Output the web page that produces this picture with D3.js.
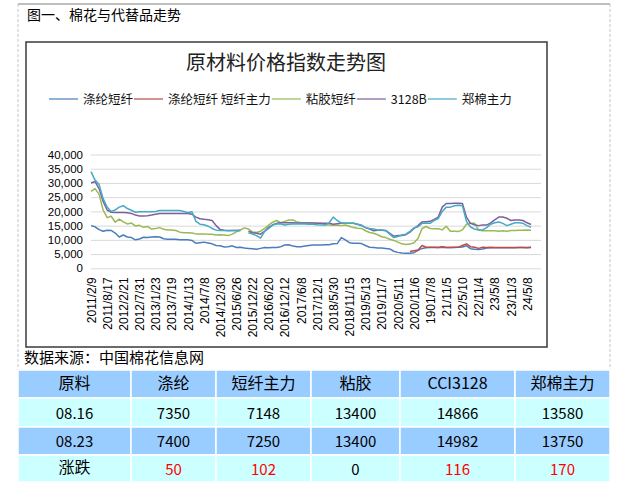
<!DOCTYPE html>
<html>
<head>
<meta charset="utf-8">
<script src="https://cdn.jsdelivr.net/npm/d3@7"></script>
<style>
  body { margin: 0; background: #fff; }
  text { font-family: "Noto Sans CJK SC", sans-serif; }
</style>
</head>
<body>
<div id="chart"></div>
<script>
// x axis tick labels (one every 4 samples)
const tickLabels = ['2011/2/9', '2011/8/17', '2012/2/21', '2012/7/31', '2013/1/23', '2013/7/19', '2014/1/13',
  '2014/7/8', '2014/12/30', '2015/6/26', '2015/12/22', '2016/6/20', '2016/12/12', '2017/6/8',
  '2017/12/1', '2018/5/30', '2018/11/15', '2019/5/13', '2019/11/7', '2020/5/11', '2020/11/6',
  '1901/7/8', '21/11/5', '22/5/10', '22/11/4', '23/5/8', '23/11/3', '24/5/8'];

// 涤纶短纤
const polyester = [
  15000, 14600, 13600, 13000, 13400, 13300, 12400, 11000, 11700, 11000,
  10800, 10000, 10300, 10900, 10800, 11000, 11100, 11000, 10400, 10200,
  10200, 10200, 10000, 10000, 10000, 9800, 8800, 9000, 9200, 8900,
  8600, 8000, 7900, 7500, 7600, 7900, 7300, 7400, 7100, 7000,
  6900, 6700, 7000, 7300, 7200, 7300, 7300, 7600, 8200, 8300,
  7800, 7600, 7600, 7800, 8000, 8200, 8200, 8200, 8300, 8300,
  8600, 8700, 10800, 10000, 9000, 8800, 8800, 8700, 8000, 7400,
  7300, 7100, 7100, 7000, 6800, 6000, 5600, 5400, 5300, 5300,
  5500, 6300, 7000, 7200, 7300, 7300, 7300, 7400, 7300, 7200,
  7300, 7400, 7500, 7900, 6900, 6700, 6600, 6800, 7100, 7200,
  7200, 7200, 7200, 7200, 7200, 7200, 7300, 7300, 7300, 7400
];

// 涤纶短纤 短纤主力 (starts later)
const psfStart = 79;
const psfFutures = [
  5900, 6200, 6400, 8000, 7400, 7400, 7400, 7300, 7600, 7300,
  7400, 7400, 7400, 8000, 8600, 7600, 7400, 7000, 7400, 7300,
  7400, 7300, 7300, 7300, 7300, 7300, 7300, 7300, 7300, 7200, 7300
];

// 粘胶短纤
const viscose = [
  27000, 28000, 26000, 20500, 17800, 18300, 16200, 17300, 16300, 15600,
  15900, 14900, 15100, 14400, 14700, 13800, 14000, 14300, 13700, 13500,
  13500, 13300, 12700, 12500, 12500, 12400, 12100, 12100, 12100, 12000,
  12000, 11700, 11800, 11700, 11500, 12000, 12800, 13500, 14200, 13800,
  12800, 12600, 13000, 14000, 15200, 16200, 16800, 16000, 16500, 17000,
  17000, 16300, 16000, 16000, 15900, 15900, 15800, 15800, 15300, 15200,
  15100, 15100, 15000, 15200, 14800, 14300, 14100, 14000, 13200, 12600,
  12300, 11800, 11100, 10800, 10200, 9800, 9200, 8600, 8400, 8500,
  9000, 10500, 14000, 14700, 14000, 13900, 13900, 13500, 14800, 13000,
  13000, 12900, 13500, 15500, 15800, 15800, 13500, 13200, 13200, 13200,
  13200, 13000, 13200, 13000, 13300, 13300, 13400, 13400, 13500, 13400
];

// 3128B
const cci3128 = [
  30000, 30500, 28000, 23500, 20500, 19700, 19600, 19600, 19600, 19500,
  19300, 18700, 18400, 18400, 18500, 18700, 19000, 19300, 19300, 19300,
  19300, 19300, 19300, 19300, 19300, 19000, 18000, 17400, 17200, 17100,
  16800, 15000, 13600, 13400, 13300, 13300, 13300, 13400, null, 13000,
  12500, 12300, 12000, 13000, 14400, 15300, 15800, 16000, 16000, 16000,
  16000, 15900, 15900, 15900, 15900, 15900, 15800, 15800, 15800, 15800,
  15500, 15700, 15800, 15800, 15800, 15800, 15500, 15000, 14300, 13800,
  13200, 13400, 13400, 13300, 12300, 11300, 11500, 11500, 11800, 12700,
  14000, 15000, 16300, 16400, 16500, 17200, 18000, 21500, 22800, 22800,
  22900, 22900, 22800, 18000, 15800, 15300, 15000, 15200, 15200, 16000,
  17000, 18000, 18000, 17600, 16800, 17000, 17000, 16800, 16000, 15400
];

// 郑棉主力
const zceCotton = [
  34000, 31000, 29500, 24500, 21500, 20000, 20500, 21500, 22000, 21000,
  20400, 19700, 19900, 19900, 19900, 19900, 20000, 20300, 20300, 20300,
  20300, 20300, 20300, 20000, 19500, 19900, 16500, 15500, 15300, 14800,
  14000, 13400, 13300, 13300, 13200, 13300, 13300, 13200, null, 12500,
  12000, 11500, 10600, 13000, 14000, 15200, 15600, 15600, 15200, 15500,
  15600, 15600, 15600, 15600, 15500, 15500, 15300, 15200, 15200, 16000,
  18000, 16800, 15900, 15800, 15800, 15800, 15500, 15200, 14300, 14000,
  13800, 13500, 13500, 13200, 12000, 10800, 11200, 11700, 12000, 13000,
  14200, 14600, 15800, 15900, 15800, 16800, 17500, 20000, 21500, 21500,
  22000, 22200, 22000, 16500, 14500, 13800, 13500, 13500, 14300, 15500,
  16000, 16300, 15800, 15000, 15500, 16000, 16000, 15800, 15000, 14400
];

const seriesNames = ['涤纶短纤', '涤纶短纤 短纤主力', '粘胶短纤', '3128B', '郑棉主力'];
const seriesColors = ['#4a7ebb', '#be4b48', '#98b954', '#7d60a0', '#46aac5'];

// table
const tableHead = ['原料', '涤纶', '短纤主力', '粘胶', 'CCI3128', '郑棉主力'];
const row0816 = ['08.16', 7350, 7148, 13400, 14866, 13580];
const row0823 = ['08.23', 7400, 7250, 13400, 14982, 13750];
const rowChange = ['涨跌', 50, 102, 0, 116, 170];

const W = 621, H = 490;
const svg = d3.select('#chart').append('svg')
  .attr('width', W).attr('height', H);

svg.append('rect').attr('width', W).attr('height', H).attr('fill', '#fff');

// outer frame of the page block
svg.append('line').attr('x1', 18).attr('x2', 610).attr('y1', 4).attr('y2', 4)
  .attr('stroke', '#a8a8a8').attr('stroke-width', 1.5);
[18, 610].forEach(x => {
  svg.append('line').attr('x1', x).attr('x2', x).attr('y1', 4).attr('y2', 370)
    .attr('stroke', '#c4c4c4').attr('stroke-dasharray', '3,2');
});

svg.append('text').attr('x', 27).attr('y', 20)
  .attr('font-size', 14).attr('fill', '#000').text('图一、棉花与代替品走势');

// chart box
svg.append('rect').attr('x', 26).attr('y', 42).attr('width', 521).attr('height', 305)
  .attr('fill', '#fff').attr('stroke', '#3a3a3a').attr('stroke-width', 1.5);

svg.append('text').attr('x', 286).attr('y', 70).attr('text-anchor', 'middle')
  .attr('font-size', 20).attr('fill', '#222').text('原材料价格指数走势图');

// legend
let lx = 49;
const legend = svg.append('g');
seriesNames.forEach((name, k) => {
  legend.append('line').attr('x1', lx).attr('x2', lx + 29).attr('y1', 99).attr('y2', 99)
    .attr('stroke', seriesColors[k]).attr('stroke-width', 2).attr('opacity', 0.6);
  const t = legend.append('text').attr('x', lx + 34).attr('y', 103.5)
    .attr('font-size', 12.5).attr('fill', '#111').text(name);
  lx += 34 + t.node().getComputedTextLength() + 1;
});

// scales
const x = d3.scaleLinear().domain([0, 111.46]).range([91, 541]);
const y = d3.scaleLinear().domain([0, 40000]).range([268.3, 154.5]);

// gridlines + y labels
const yAxis = svg.append('g')
  .attr('transform', 'translate(91,0)')
  .call(d3.axisLeft(y).tickValues(d3.range(0, 40001, 5000))
    .tickSize(-450).tickPadding(8).tickFormat(d3.format(',')));
yAxis.select('.domain').remove();
yAxis.selectAll('.tick line').attr('stroke', '#d9d9d9').attr('stroke-width', 1);
yAxis.selectAll('.tick text')
  .style('font-family', '"Liberation Sans", Arial, sans-serif')
  .style('font-size', '11.5px').attr('fill', '#000');

// x labels
const xAxis = svg.append('g')
  .attr('transform', 'translate(0,268.3)')
  .call(d3.axisBottom(x).tickValues(tickLabels.map((d, k) => k * 4))
    .tickSize(0).tickFormat((d, k) => tickLabels[k]));
xAxis.select('.domain').remove();
xAxis.selectAll('.tick text')
  .style('font-family', '"Liberation Sans", Arial, sans-serif')
  .style('font-size', '12px').attr('fill', '#000')
  .attr('text-anchor', 'end')
  .attr('transform', 'rotate(-90)')
  .attr('x', -9).attr('y', 0).attr('dy', '0.35em');

// lines
const line = d3.line()
  .defined(d => d.v != null)
  .x(d => x(d.i))
  .y(d => y(d.v));

const toPts = (arr, start) => arr.map((v, i) => ({ i: i + start, v: v }));
const series = [
  toPts(polyester, 0),
  toPts(psfFutures, psfStart),
  toPts(viscose, 0),
  toPts(cci3128, 0),
  toPts(zceCotton, 0)
];
const drawOrder = [0, 2, 3, 4, 1];
drawOrder.forEach(k => {
  svg.append('path').datum(series[k])
    .attr('fill', 'none')
    .attr('stroke', seriesColors[k])
    .attr('stroke-width', 1.5)
    .attr('stroke-linejoin', 'round')
    .attr('d', line);
});

svg.append('text').attr('x', 24).attr('y', 363)
  .attr('font-size', 15).attr('fill', '#000').text('数据来源：中国棉花信息网');

// table
const colEdges = [18, 131, 216, 311, 400, 515, 610];
const rowEdges = [370, 398, 427, 455, 482];
const rowFills = ['#99ccff', '#ccffff', '#99ccff', '#ccffff'];
const rows = [tableHead, row0816, row0823, rowChange];
const tbl = svg.append('g');
rows.forEach((row, r) => {
  row.forEach((cell, c) => {
    const x0 = colEdges[c], x1 = colEdges[c + 1];
    const y0 = rowEdges[r], y1 = rowEdges[r + 1];
    tbl.append('rect').attr('x', x0).attr('y', y0)
      .attr('width', x1 - x0).attr('height', y1 - y0)
      .attr('fill', rowFills[r]).attr('stroke', '#fff').attr('stroke-width', 1.5);
    const isNum = typeof cell === 'number';
    const red = r === 3 && isNum && cell !== 0;
    const isHeadText = r === 0 || (c === 0 && r === 3);
    tbl.append('text')
      .attr('x', (x0 + x1) / 2)
      .attr('y', (y0 + y1) / 2 + (isHeadText ? -1 : 1))
      .attr('dy', '0.36em')
      .attr('text-anchor', 'middle')
      .attr('font-size', isHeadText ? 16 : 15)
      .attr('fill', red ? '#ff0000' : '#000')
      .text(cell);
  });
});
</script>
</body>
</html>
